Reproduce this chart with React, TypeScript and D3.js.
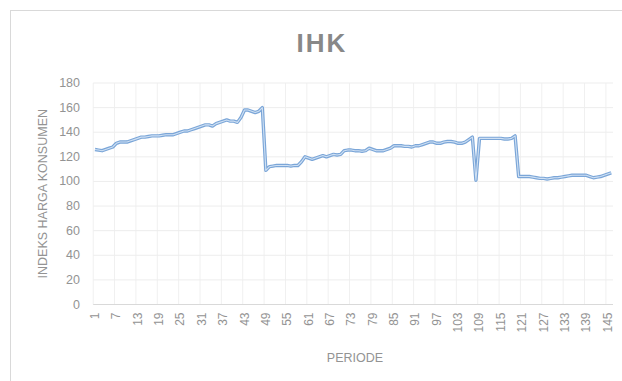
import React from "react";
import * as d3 from "d3";

const title = "IHK";
const yTitle = "INDEKS HARGA KONSUMEN";
const xTitle = "PERIODE";

const ihkValues: number[] = [
  // 1-48
  126, 125.5, 125, 126, 127, 128, 131, 132, 132, 132,
  133, 134, 135, 136, 136, 136.5, 137, 137, 137, 137.5,
  138, 138, 138, 139, 140, 141, 141, 142, 143, 144,
  145, 146, 146, 145, 147, 148, 149, 150, 149, 149,
  148, 152, 158, 158, 157, 156, 157, 160,
  // 49-96
  109, 112, 112.5, 113, 113, 113, 113, 112.5, 113, 113,
  116, 120, 119, 118, 119, 120, 121, 120, 121, 122,
  121.5, 122, 125, 125.5, 125.5, 125, 125, 124.5, 125, 127,
  126, 125, 125, 125, 126, 127, 129, 129, 129, 128.5,
  128.5, 128, 129, 129, 130, 131, 132, 132,
  // 97-146
  131, 131, 132, 132.5, 132.5, 132, 131, 131, 132, 134,
  136, 101, 135, 135, 135, 135, 135, 135, 135, 134.5,
  134.5, 135, 137, 104, 104, 104, 104, 103.5, 103, 102.5,
  102.5, 102, 102.5, 103, 103, 103.5, 104, 104.5, 105, 105,
  105, 105, 105, 104, 103, 103.5, 104, 105, 106, 107,
];

const periods: number[] = ihkValues.map((_, i) => i + 1);
const yTicks: number[] = [0, 20, 40, 60, 80, 100, 120, 140, 160, 180];
const xTickLabels: number[] = periods.filter((p) => (p - 1) % 6 === 0);

const W = 622;
const H = 381;
const plotLeft = 93.2;
const plotRight = 613;
const plotTop = 83;
const plotBottom = 304.5;
const font = "'Liberation Sans', Arial, sans-serif";

export default function App() {
  const x = d3
    .scaleBand<number>()
    .domain(periods)
    .range([plotLeft, plotRight])
    .paddingInner(0)
    .paddingOuter(0);
  const step = x.step();
  const cx = (p: number) => (x(p) as number) + x.bandwidth() / 2;
  const y = d3.scaleLinear().domain([0, 180]).range([plotBottom, plotTop]);

  const line = d3
    .line<number>()
    .x((_, i) => cx(periods[i]))
    .y((d) => y(d));
  const path = line(ihkValues) || "";

  const vGrid: number[] = [];
  for (let k = 0; k * 6 <= periods.length; k++) vGrid.push(plotLeft + k * 6 * step);

  return (
    <svg
      width={W}
      height={H}
      style={{ position: "absolute", left: 0, top: 0, background: "#fff" }}
      fontFamily={font}
    >
      <rect x={0} y={0} width={W} height={H} fill="#fff" />
      <rect x={10.5} y={10.5} width={620} height={380} fill="#fff" stroke="#d9d9d9" strokeWidth={1} />

      {/* vertical gridlines */}
      {vGrid.map((gx, i) => (
        <line key={"v" + i} x1={gx} x2={gx} y1={plotTop} y2={plotBottom} stroke="#f0f0f0" strokeWidth={1} />
      ))}
      {/* horizontal gridlines */}
      {yTicks.map((t) => (
        <line
          key={"h" + t}
          x1={plotLeft}
          x2={plotRight}
          y1={y(t)}
          y2={y(t)}
          stroke={t === 0 ? "#d9d9d9" : "#ededed"}
          strokeWidth={1}
        />
      ))}

      {/* y tick labels */}
      {yTicks.map((t) => (
        <text
          key={"yt" + t}
          x={80}
          y={y(t)}
          textAnchor="end"
          dominantBaseline="central"
          fontSize={12.5}
          fill="#939393"
        >
          {t}
        </text>
      ))}

      {/* x tick labels */}
      {xTickLabels.map((p) => (
        <text
          key={"xt" + p}
          transform={`translate(${cx(p)},${plotBottom + 8}) rotate(-90)`}
          textAnchor="end"
          dominantBaseline="central"
          fontSize={12}
          fill="#939393"
        >
          {p}
        </text>
      ))}

      {/* series line */}
      <path d={path} fill="none" stroke="#7ba6d8" strokeWidth={3.4} strokeLinejoin="round" />
      <path d={path} fill="none" stroke="#cfe0f3" strokeWidth={1.1} strokeLinejoin="round" />

      {/* title */}
      <text x={322} y={52} textAnchor="middle" fontSize={26} fontWeight="bold" fill="#888888" letterSpacing={2}>
        {title}
      </text>

      {/* axis titles */}
      <text
        transform={`translate(43,${(plotTop + plotBottom) / 2}) rotate(-90)`}
        textAnchor="middle"
        dominantBaseline="central"
        fontSize={12.5}
        fill="#939393"
      >
        {yTitle}
      </text>
      <text x={355} y={362} textAnchor="middle" fontSize={12.5} fill="#939393">
        {xTitle}
      </text>
    </svg>
  );
}
